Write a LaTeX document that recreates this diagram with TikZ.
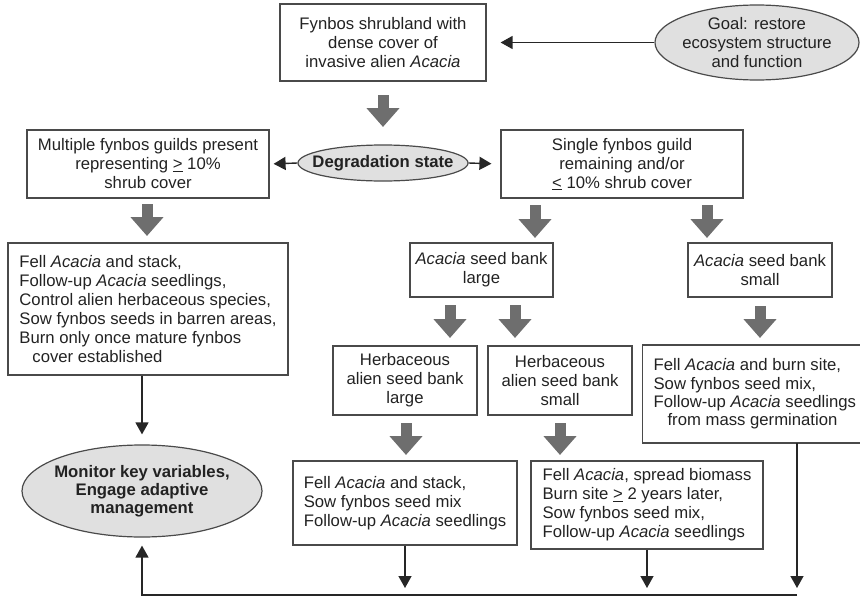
\documentclass[tikz,border=0pt]{standalone}
\usepackage{fontspec}
\setmainfont{Liberation Sans}
\usetikzlibrary{arrows.meta,shapes.geometric}
\definecolor{boxline}{HTML}{4A4A4A}
\definecolor{txt}{HTML}{222222}
\definecolor{arrowgray}{HTML}{6E6E6E}
\definecolor{ellfill}{HTML}{E0E0E0}
\begin{document}
\begin{tikzpicture}[x=1pt,y=-1pt,
  every node/.style={font=\fontsize{16.7}{19}\selectfont, text=txt},
  box/.style={draw=boxline, line width=1.2pt, inner sep=0pt, align=center},
  lbox/.style={draw=boxline, line width=1.2pt, inner sep=0pt, align=left},
  oval/.style={ellipse, draw=boxline, line width=1.2pt, fill=ellfill, inner sep=0pt},
  blk/.style={draw=arrowgray, line width=11pt, -{Triangle[width=32pt,length=19pt]}},
  thinarrow/.style={draw=black!85, line width=1.4pt, -{Triangle[width=13pt,length=12pt]}},
]
\clip (0,0) rectangle (860,597);
\useasboundingbox (0,0) rectangle (860,597);

% nodes
\node[box, minimum width=206pt, minimum height=77pt] (top) at (383,42.5)
  {Fynbos shrubland with\\dense cover of\\invasive alien \textit{Acacia}};
\node[oval, minimum width=204pt, minimum height=75pt] (goal) at (757,42.5) {};
\node[align=center] (goaltext) at (goal) {Goal: restore\\ecosystem structure\\and function};

\node[oval, minimum width=170pt, minimum height=36pt] (deg) at (383,163) {};
\node[font=\fontsize{16.7}{19}\selectfont\bfseries] (degtext) at (deg) {Degradation state};

\node[box, minimum width=242pt, minimum height=68pt] (left) at (148,164)
  {Multiple fynbos guilds present\\representing \underline{>} 10\%\\shrub cover};
\node[box, minimum width=242pt, minimum height=68pt] (right) at (622,164)
  {Single fynbos guild\\remaining and/or\\\underline{<} 10\% shrub cover};

\node[lbox, minimum width=280pt, minimum height=132pt] (lbig) at (148,309)
  {Fell \textit{Acacia} and stack,\\Follow-up \textit{Acacia} seedlings,\\Control alien herbaceous species,\\Sow fynbos seeds in barren areas,\\Burn only once mature fynbos\\\hspace*{13pt}cover established};

\node[oval, minimum width=240pt, minimum height=92pt] (mon) at (142,491) {};
\node[align=center, font=\fontsize{16.7}{18}\selectfont\bfseries] (montext) at (mon)
  {Monitor key variables,\\Engage adaptive\\management};

\node[box, minimum width=143pt, minimum height=54pt] (alarge) at (481.5,270)
  {\textit{Acacia} seed bank\\large};
\node[box, minimum width=144pt, minimum height=54pt] (asmall) at (760,270)
  {\textit{Acacia} seed bank\\small};

\node[box, minimum width=144pt, minimum height=69pt] (hlarge) at (405,380.5)
  {Herbaceous\\alien seed bank\\large};
\node[box, minimum width=144pt, minimum height=69pt] (hsmall) at (560,380.5)
  {Herbaceous\\alien seed bank\\small};

\node[lbox, anchor=west, inner xsep=11pt, minimum height=98pt, font=\fontsize{16.7}{18.3}\selectfont] (fr) at (642,394)
  {Fell \textit{Acacia} and burn site,\\Sow fynbos seed mix,\\Follow-up \textit{Acacia} seedlings\\\hspace*{14pt}from mass germination};

\node[lbox, minimum width=224pt, minimum height=84pt] (b1) at (405,503)
  {Fell \textit{Acacia} and stack,\\Sow fynbos seed mix\\Follow-up \textit{Acacia} seedlings};
\node[lbox, minimum width=232pt, minimum height=88pt] (b2) at (647,505)
  {Fell \textit{Acacia}, spread biomass\\Burn site \underline{>} 2 years later,\\Sow fynbos seed mix,\\Follow-up \textit{Acacia} seedlings};

\coordinate (frout) at (797,443);
\coordinate (corner) at (797,595);

% block arrows
\draw[blk] (383,95) -- (383,127);
\draw[blk] (147,204) -- (147,236);
\draw[blk] (535,205) -- (535,238);
\draw[blk] (707,205) -- (707,238);
\draw[blk] (450,305) -- (450,338);
\draw[blk] (515,305) -- (515,338);
\draw[blk] (760,306) -- (760,338);
\draw[blk] (406,423) -- (406,455);
\draw[blk] (560,423) -- (560,455);

% thin connectors
\draw[thinarrow, shorten >=14pt] (goal.west) -- (top.east);
\draw[thinarrow, shorten >=4pt] (deg.west) -- (left.east);
\draw[thinarrow, shorten >=9pt] (deg.east) -- (right.west);
\draw[thinarrow, shorten >=10pt] (lbig.south -| mon.north) -- (mon.north);
\draw[thinarrow, shorten >=7pt] (frout) -- (corner);
\draw[thinarrow, shorten >=7pt] (b1.south) -- (b1.south |- corner);
\draw[thinarrow, shorten >=7pt] (b2.south) -- (b2.south |- corner);
\draw[thinarrow, shorten >=8pt] (corner) -- (mon.south |- corner) -- (mon.south);
\end{tikzpicture}
\end{document}
